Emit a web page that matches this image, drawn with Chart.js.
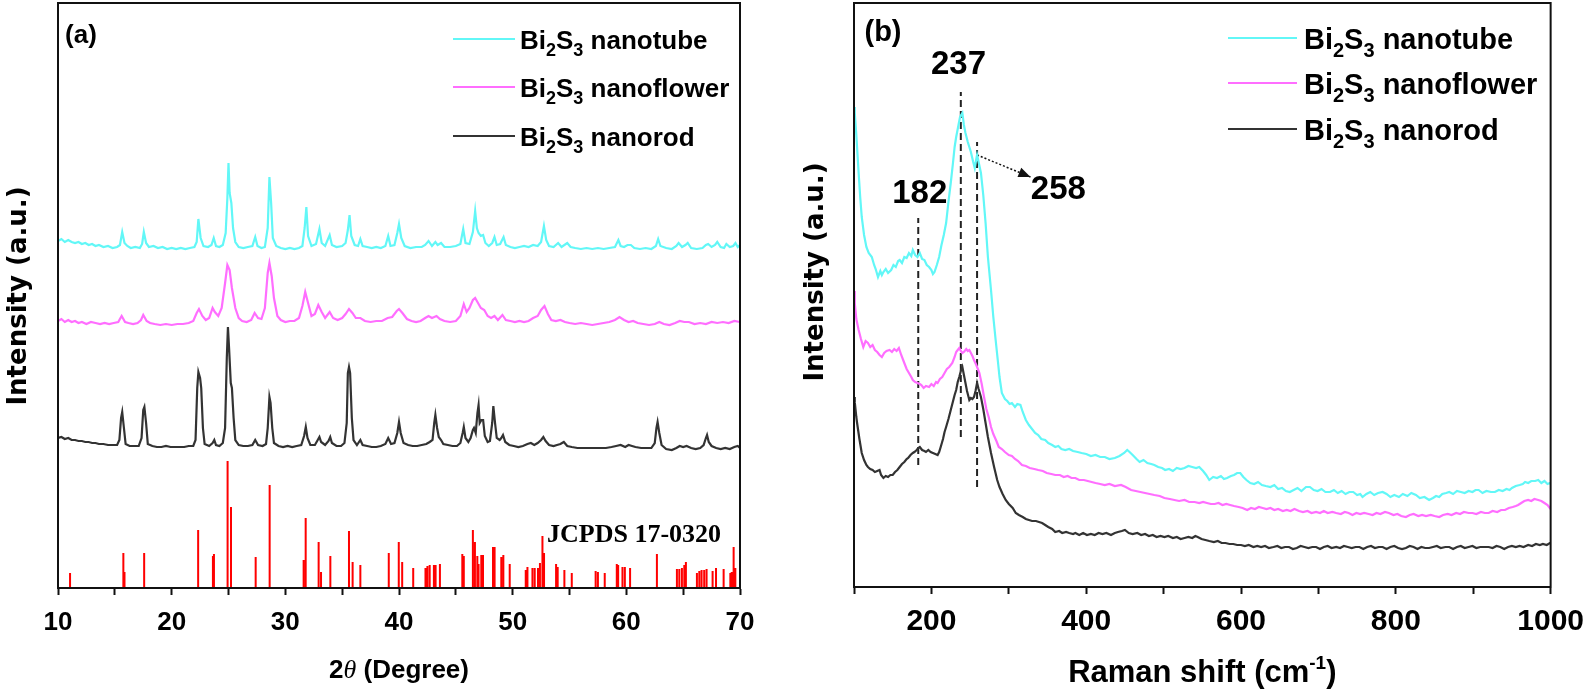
<!DOCTYPE html>
<html><head><meta charset="utf-8">
<script src="https://cdn.jsdelivr.net/npm/chart.js@4.4.0/dist/chart.umd.min.js"></script>
<style>
html,body{margin:0;padding:0;background:#fff;overflow:hidden}
#wrap{position:relative;width:1594px;height:694px;background:#fff}
.box{position:absolute;top:0;width:797px;height:694px}
</style></head><body>
<div id="wrap">
<div class="box" style="left:0"><canvas id="c1" width="797" height="694"></canvas></div>
<div class="box" style="left:797px"><canvas id="c2" width="797" height="694"></canvas></div>
</div>
<script>
// ---------------- DATA ----------------
const seriesNames = ['nanotube', 'nanoflower', 'nanorod'];
const xrdTickLabels = [10, 20, 30, 40, 50, 60, 70];
const ramanTickLabels = [200, 400, 600, 800, 1000];

// XRD (2theta, intensity offset a.u.)
const xrdTube = [[10.0,347],[10.3,349],[10.6,346],[10.9,348],[11.2,346],[11.5,345],[11.8,346],[12.1,344],[12.4,345],[12.7,343],[13.0,344],[13.3,342],[13.6,343],[14.0,341],[14.4,342],[14.8,340],[15.2,341],[15.45,343],[15.65,356],[15.85,345],[16.1,342],[16.4,340],[16.8,341],[17.2,340],[17.4,344],[17.55,356],[17.75,345],[18.0,341],[18.4,342],[18.8,340],[19.2,341],[19.6,339],[20.0,340],[20.4,339],[20.8,340],[21.2,339],[21.6,340],[22.0,341],[22.2,346],[22.35,369],[22.55,350],[22.8,342],[23.2,341],[23.5,343],[23.7,350],[23.9,342],[24.2,341],[24.5,343],[24.75,355],[24.9,390],[25.0,425],[25.1,395],[25.25,385],[25.4,360],[25.6,346],[25.9,341],[26.3,340],[26.7,341],[27.1,342],[27.35,351],[27.55,342],[27.9,340],[28.2,341],[28.45,360],[28.6,411],[28.75,385],[28.9,350],[29.2,342],[29.6,340],[30.0,339],[30.4,340],[30.8,339],[31.2,340],[31.5,342],[31.7,360],[31.85,381],[32.0,352],[32.3,342],[32.7,344],[33.0,359],[33.2,345],[33.5,342],[33.9,353],[34.1,343],[34.5,341],[35.0,342],[35.3,345],[35.5,358],[35.65,373],[35.8,352],[36.1,343],[36.4,342],[36.6,349],[36.8,342],[37.2,341],[37.6,340],[38.0,341],[38.4,340],[38.8,342],[39.05,352],[39.25,342],[39.6,343],[39.85,355],[40.0,364],[40.2,350],[40.5,342],[41.0,340],[41.5,341],[42.0,341],[42.3,343],[42.6,347],[42.9,342],[43.2,346],[43.4,343],[43.7,345],[44.0,341],[44.5,341],[45.0,342],[45.4,344],[45.65,359],[45.85,345],[46.2,344],[46.5,356],[46.7,377],[46.85,360],[47.0,355],[47.2,352],[47.4,353],[47.6,345],[47.9,342],[48.2,345],[48.4,351],[48.6,343],[48.9,344],[49.2,351],[49.4,343],[49.8,341],[50.2,340],[50.6,341],[51.0,342],[51.4,341],[51.8,343],[52.2,342],[52.5,346],[52.75,362],[52.95,348],[53.2,342],[53.6,341],[54.0,345],[54.3,341],[54.8,345],[55.1,341],[55.5,340],[56.0,339],[56.5,340],[57.0,339],[57.5,340],[58.0,339],[58.5,340],[59.0,341],[59.3,348],[59.5,342],[59.8,341],[60.1,343],[60.4,343],[60.7,340],[61.2,339],[61.7,340],[62.2,339],[62.6,342],[62.8,349],[63.0,342],[63.5,340],[64.0,339],[64.4,342],[64.6,345],[64.9,341],[65.2,343],[65.4,345],[65.7,340],[66.2,339],[66.7,340],[67.0,343],[67.2,344],[67.5,341],[67.8,343],[68.0,346],[68.3,341],[68.6,340],[68.8,344],[69.1,341],[69.4,342],[69.6,345],[69.8,341],[70.0,343]];

const xrdFlower = [[10.0,267],[10.3,269],[10.6,266],[10.9,268],[11.2,266],[11.5,267],[11.8,265],[12.1,266],[12.5,264],[12.9,266],[13.3,265],[13.7,264],[14.1,265],[14.5,264],[14.9,265],[15.3,266],[15.6,272],[15.9,266],[16.2,265],[16.6,264],[17.0,265],[17.3,268],[17.5,273],[17.8,267],[18.1,265],[18.5,264],[19.0,263],[19.5,264],[20.0,263],[20.5,264],[21.0,264],[21.5,265],[21.9,267],[22.2,275],[22.4,279],[22.7,272],[23.0,268],[23.3,270],[23.6,280],[23.8,276],[24.1,272],[24.4,280],[24.7,305],[24.9,323],[25.1,318],[25.3,300],[25.6,280],[25.9,270],[26.2,267],[26.6,266],[27.0,268],[27.3,275],[27.6,270],[27.9,269],[28.2,280],[28.45,315],[28.6,325],[28.8,312],[29.0,290],[29.3,272],[29.6,268],[30.0,266],[30.4,267],[30.8,267],[31.2,270],[31.5,282],[31.75,296],[32.0,285],[32.3,272],[32.6,274],[32.9,283],[33.2,276],[33.5,270],[33.9,276],[34.2,270],[34.6,268],[35.0,270],[35.3,274],[35.6,279],[35.9,275],[36.2,270],[36.6,270],[37.0,267],[37.5,266],[38.0,267],[38.5,267],[39.0,270],[39.4,271],[39.8,277],[40.0,279],[40.3,275],[40.7,269],[41.1,267],[41.5,266],[41.9,267],[42.3,270],[42.6,272],[42.9,270],[43.3,272],[43.6,269],[44.0,267],[44.5,266],[45.0,267],[45.4,272],[45.7,284],[45.95,276],[46.2,280],[46.5,288],[46.7,290],[46.9,286],[47.2,280],[47.5,278],[47.8,272],[48.1,270],[48.4,272],[48.7,268],[49.1,273],[49.4,268],[49.8,267],[50.2,266],[50.6,267],[51.0,266],[51.4,267],[51.8,270],[52.2,272],[52.5,278],[52.8,282],[53.1,274],[53.4,268],[53.8,267],[54.2,268],[54.6,266],[55.0,265],[55.5,264],[56.0,265],[56.5,264],[57.0,263],[57.5,264],[58.0,265],[58.5,266],[59.0,268],[59.4,271],[59.8,268],[60.2,266],[60.6,267],[61.0,265],[61.5,264],[62.0,263],[62.5,264],[62.9,266],[63.3,264],[63.8,263],[64.3,265],[64.7,267],[65.1,266],[65.5,266],[66.0,264],[66.5,265],[67.0,264],[67.5,266],[68.0,265],[68.5,266],[69.0,265],[69.5,267],[70.0,266]];

const xrdRod = [[10.0,150],[10.3,151],[10.6,149],[10.9,150],[11.2,148],[11.5,148],[11.8,147],[12.1,147],[12.4,146],[12.7,146],[13.0,145],[13.3,145],[13.6,144],[14.0,144],[14.4,143],[14.8,143],[15.2,143],[15.4,148],[15.55,170],[15.65,176],[15.8,160],[15.95,144],[16.3,142],[16.7,142],[17.1,142],[17.35,150],[17.5,178],[17.6,181],[17.75,165],[17.9,144],[18.3,142],[18.7,141],[19.1,141],[19.5,142],[19.9,141],[20.3,141],[20.7,141],[21.1,141],[21.5,142],[21.9,142],[22.1,148],[22.25,200],[22.35,216],[22.5,210],[22.6,200],[22.75,160],[22.9,144],[23.3,142],[23.6,145],[23.75,148],[23.9,143],[24.2,142],[24.5,145],[24.7,160],[24.85,230],[24.95,261],[25.05,240],[25.2,205],[25.3,200],[25.45,170],[25.6,148],[25.9,143],[26.3,142],[26.7,142],[27.1,143],[27.35,148],[27.6,143],[28.0,142],[28.3,144],[28.45,160],[28.6,191],[28.7,185],[28.85,160],[29.0,145],[29.4,142],[29.8,141],[30.2,142],[30.6,141],[31.0,142],[31.4,143],[31.65,152],[31.8,161],[31.95,150],[32.2,143],[32.6,143],[32.85,148],[33.0,151],[33.15,146],[33.5,143],[33.8,147],[33.95,151],[34.1,145],[34.5,142],[34.9,142],[35.2,145],[35.4,165],[35.5,215],[35.6,221],[35.7,215],[35.85,170],[36.0,148],[36.3,143],[36.6,148],[36.8,143],[37.2,142],[37.6,141],[38.0,141],[38.4,142],[38.8,144],[39.05,150],[39.3,144],[39.6,145],[39.85,155],[40.0,166],[40.15,155],[40.4,145],[40.8,143],[41.2,142],[41.6,142],[42.0,143],[42.4,144],[42.7,146],[42.95,148],[43.1,165],[43.2,173],[43.35,160],[43.5,151],[43.7,148],[43.9,144],[44.3,143],[44.7,142],[45.1,142],[45.4,145],[45.6,155],[45.7,161],[45.85,150],[46.1,146],[46.3,150],[46.5,158],[46.6,160],[46.75,155],[46.9,175],[47.0,183],[47.1,165],[47.25,168],[47.4,168],[47.55,152],[47.8,146],[48.0,147],[48.2,165],[48.3,182],[48.45,165],[48.6,150],[48.85,148],[49.0,150],[49.15,153],[49.35,146],[49.7,143],[50.1,142],[50.5,141],[50.9,142],[51.3,144],[51.6,145],[51.9,143],[52.2,145],[52.5,148],[52.7,151],[52.9,147],[53.2,143],[53.6,142],[53.9,143],[54.2,144],[54.5,146],[54.8,142],[55.2,141],[55.7,140],[56.2,140],[56.7,140],[57.2,140],[57.7,140],[58.2,140],[58.7,141],[59.1,142],[59.5,143],[59.9,141],[60.2,143],[60.5,142],[60.8,141],[61.3,140],[61.8,140],[62.2,140],[62.5,145],[62.65,160],[62.75,166],[62.9,155],[63.1,143],[63.5,139],[64.0,138],[64.4,140],[64.7,142],[65.0,141],[65.3,142],[65.7,140],[66.1,139],[66.5,140],[66.8,143],[67.0,150],[67.1,153],[67.25,146],[67.5,142],[67.9,140],[68.3,139],[68.7,140],[69.1,139],[69.5,141],[69.8,142],[70.0,140]];

// JCPDS 17-0320 reference lines
const stickPos = [11.06,15.75,15.85,17.58,22.33,23.63,23.72,24.92,25.22,27.39,28.62,31.61,31.79,32.93,33.14,33.96,35.6,35.92,36.6,39.1,39.98,40.28,41.25,42.33,42.5,42.7,43.07,43.22,43.6,45.57,45.7,46.5,46.68,46.89,47.0,47.24,47.39,48.27,48.41,49.0,49.18,49.74,51.15,51.3,51.74,51.94,52.23,52.4,52.62,52.76,53.82,53.96,54.55,55.2,57.3,57.5,58.1,59.16,59.28,59.66,59.87,60.33,62.69,64.45,64.66,64.89,65.1,65.24,66.21,66.42,66.62,66.85,67.06,67.59,67.89,68.56,69.15,69.27,69.44,69.59];
const stickHeight = [15,35,16,35,58,32,34,127,81,31,103,28,70,46,16,32,57,26,23,35,46,26,20,20,22,23,23,23,24,34,32,58,46,32,24,33,33,41,41,31,33,24,18,21,20,20,20,25,52,35,24,21,18,15,17,16,15,24,23,21,21,20,34,19,19,20,23,26,15,17,18,18,19,17,20,19,15,16,41,20];

// Raman (cm-1, intensity offset a.u.)
const ramanTube = [[100,480],[101,474],[103,452],[106,414],[108,390],[110,370],[113,352],[116,340],[119,334],[123,330],[126,322],[128,318],[131,310],[134,316],[136,312],[138,315],[141,318],[144,314],[148,317],[151,322],[154,320],[157,326],[159,327],[162,324],[165,330],[168,329],[171,334],[174,331],[176,337],[179,332],[182,330],[185,334],[188,328],[191,327],[194,322],[197,320],[200,317],[202,313],[204,315],[207,322],[210,330],[213,342],[216,352],[219,364],[222,385],[225,404],[228,425],[230,440],[232,450],[235,462],[237,470],[240,474],[242,462],[244,454],[247,445],[249,440],[251,435],[254,425],[256,419],[258,428],[259,432],[261,425],[264,414],[267,392],[270,364],[273,330],[277,297],[280,270],[283,247],[286,225],[288,210],[291,194],[295,188],[298,186],[301,183],[304,184],[308,180],[311,183],[315,182],[318,175],[322,167],[326,162],[330,158],[334,154],[338,152],[342,148],[347,147],[351,144],[356,142],[360,140],[364,141],[368,138],[373,137],[378,138],[383,136],[389,135],[394,134],[400,133],[406,131],[412,132],[418,130],[424,130],[430,128],[437,129],[443,131],[449,134],[453,137],[456,135],[460,132],[465,128],[469,125],[474,127],[479,124],[484,123],[488,122],[493,120],[498,119],[502,117],[507,118],[512,116],[517,119],[522,118],[527,119],[532,121],[537,120],[542,119],[546,120],[551,116],[555,112],[559,107],[564,110],[569,109],[574,111],[578,108],[582,109],[587,111],[591,112],[595,114],[599,114],[603,110],[607,107],[612,104],[617,103],[622,105],[627,102],[632,101],[638,100],[643,102],[648,98],[653,99],[658,96],[663,95],[668,97],[673,99],[678,96],[684,100],[689,100],[694,97],[699,96],[704,98],[709,95],[715,95],[720,97],[725,94],[730,96],[735,93],[740,95],[745,95],[750,92],[754,93],[757,90],[762,93],[767,95],[772,92],[777,94],[783,95],[788,93],[793,90],[798,92],[804,90],[809,93],[815,91],[820,94],[826,92],[831,89],[837,90],[843,87],[848,89],[852,91],[856,90],[860,93],[865,94],[869,95],[874,93],[879,96],[884,95],[889,94],[894,96],[899,95],[903,97],[907,97],[912,94],[917,96],[923,95],[928,95],[933,97],[938,96],[943,98],[947,97],[950,99],[955,101],[960,102],[964,103],[967,105],[971,104],[975,106],[980,106],[984,107],[988,104],[992,106],[996,103],[999,104],[1000,103]];

const ramanFlower = [[100,296],[101,284],[103,268],[106,257],[109,248],[112,240],[115,246],[118,244],[121,240],[124,242],[127,237],[130,235],[133,232],[136,230],[139,234],[142,236],[146,237],[149,235],[152,238],[155,236],[158,239],[161,232],[165,224],[168,218],[171,214],[174,210],[176,207],[179,205],[182,204],[185,203],[187,202],[190,199],[193,201],[197,200],[200,203],[203,201],[206,205],[208,204],[211,208],[214,210],[217,214],[220,218],[223,220],[227,224],[230,230],[232,235],[234,237],[236,239],[238,236],[240,234],[242,235],[245,238],[247,236],[249,237],[251,234],[253,231],[255,227],[258,222],[260,218],[262,214],[265,203],[268,190],[271,178],[274,170],[277,160],[280,153],[284,146],[287,140],[291,138],[295,135],[300,132],[304,131],[308,128],[312,126],[317,122],[322,121],[327,119],[333,118],[338,117],[344,116],[349,114],[355,113],[360,112],[366,112],[371,110],[376,111],[381,109],[386,109],[391,107],[397,107],[402,106],[407,105],[412,104],[418,103],[424,102],[430,103],[437,101],[445,102],[451,100],[458,97],[464,96],[470,95],[476,94],[482,93],[488,92],[495,91],[501,89],[508,88],[514,87],[520,86],[527,87],[533,85],[540,85],[546,84],[551,85],[556,84],[561,83],[566,83],[571,84],[576,82],[581,83],[586,82],[591,81],[597,80],[602,79],[608,77],[613,79],[618,78],[623,80],[628,79],[633,78],[638,79],[643,77],[648,78],[654,76],[659,77],[664,76],[669,78],[675,76],[680,75],[686,76],[691,74],[697,75],[702,74],[707,76],[712,74],[718,75],[723,74],[729,73],[734,75],[739,74],[744,72],[749,74],[754,73],[759,74],[765,73],[770,72],[775,74],[780,73],[786,75],[791,74],[797,72],[802,73],[807,71],[813,70],[818,72],[823,73],[829,71],[834,72],[839,71],[845,72],[850,71],[856,70],[861,72],[867,73],[872,72],[878,74],[883,73],[888,75],[894,74],[899,74],[904,73],[910,75],[915,74],[920,74],[925,76],[931,75],[936,77],[941,77],[946,79],[951,80],[955,81],[958,82],[962,84],[966,86],[971,87],[975,86],[979,88],[984,87],[988,86],[992,84],[996,82],[999,79],[1000,78]];

const ramanRod = [[100,190],[101,185],[103,170],[104,164],[107,148],[110,134],[113,127],[116,122],[118,120],[121,118],[124,117],[127,115],[130,116],[133,117],[135,112],[138,109],[141,111],[144,110],[147,112],[150,112],[153,115],[156,117],[159,120],[162,123],[165,125],[168,128],[170,129],[173,132],[176,134],[178,135],[181,137],[183,139],[185,140],[188,137],[191,136],[193,135],[196,137],[199,135],[202,134],[205,133],[208,132],[210,135],[212,140],[215,148],[217,155],[219,160],[222,168],[225,177],[228,186],[230,192],[232,197],[234,205],[236,210],[238,216],[240,220],[242,212],[244,204],[246,196],[248,190],[249,187],[251,189],[253,188],[255,190],[257,196],[259,204],[261,198],[264,190],[267,178],[270,164],[273,150],[277,134],[281,120],[285,107],[288,100],[292,93],[296,87],[300,83],[305,79],[309,74],[313,72],[318,70],[322,68],[326,67],[330,66],[335,66],[339,65],[343,64],[347,62],[351,60],[356,58],[360,55],[365,56],[369,54],[374,55],[378,54],[383,53],[386,54],[391,52],[396,54],[401,52],[406,53],[411,52],[416,54],[421,53],[426,54],[432,52],[437,54],[441,55],[446,56],[450,57],[455,54],[460,53],[466,54],[471,52],[476,53],[481,51],[486,52],[491,50],[496,51],[501,50],[506,51],[512,49],[517,50],[522,48],[527,49],[532,50],[537,49],[541,51],[544,50],[549,48],[554,47],[559,46],[565,45],[570,46],[575,44],[580,44],[585,43],[590,43],[595,42],[600,42],[605,41],[610,42],[616,40],[621,41],[626,40],[631,41],[636,39],[642,40],[647,41],[652,39],[657,40],[662,40],[667,38],[672,39],[677,41],[682,40],[687,39],[692,40],[697,40],[702,38],[707,40],[712,41],[717,39],[723,40],[728,39],[733,41],[738,40],[743,39],[748,40],[753,40],[758,38],[763,40],[768,41],[773,39],[778,40],[783,40],[788,38],[793,40],[798,41],[803,39],[808,38],[813,39],[818,41],[823,40],[828,38],[833,40],[838,39],[843,39],[848,40],[853,41],[858,39],[864,40],[869,40],[874,38],[879,40],[884,41],[889,39],[894,40],[899,41],[904,39],[909,40],[915,40],[920,40],[925,39],[930,41],[935,40],[940,38],[945,40],[950,41],[955,40],[960,41],[965,40],[971,42],[976,41],[981,43],[986,42],[990,43],[995,42],[999,44],[1000,44]];

// Raman peak markers
const peakLineX = [183, 238, 259];
const peakLineTop = [369, 495, 445];
const peakLineBottom = [122, 150, 100];
const peakLabels = ['182', '237', '258'];
const peakLabelX = [185, 235, 364];
const peakLabelY = [393, 522, 397];
const arrowFrom = [259, 432];
const arrowTo = [328, 410];

// ---------------- STYLE ----------------
const CYAN = '#62f7f7', MAGENTA = '#ff6eff', DARK = '#333333', RED = '#ff0000';
const SANS = '"Liberation Sans", Arial, sans-serif';
const WIDE = '"DejaVu Sans", Verdana, sans-serif';
const SERIF = '"Liberation Serif", "Times New Roman", serif';
const colors = [CYAN, MAGENTA, DARK];

const toPts = arr => arr.map(p => ({x: p[0], y: p[1]}));
const stickData = [];
stickPos.forEach((x, i) => { stickData.push({x, y: 0}, {x, y: stickHeight[i]}, {x, y: null}); });

function rich(ctx, parts, x, y, align) {
  let total = 0;
  parts.forEach(p => { ctx.font = p.f; p.w = ctx.measureText(p.t).width; total += p.w; });
  let cx = align === 'center' ? x - total / 2 : x;
  ctx.textAlign = 'left';
  parts.forEach(p => { ctx.font = p.f; ctx.fillText(p.t, cx, y + (p.dy || 0)); cx += p.w; });
}
function bi2s3(name, s) {
  const big = `bold ${s}px ${SANS}`, small = `bold ${Math.round(s * 0.7)}px ${SANS}`;
  return [{t: 'Bi', f: big}, {t: '2', f: small, dy: s * 0.28}, {t: 'S', f: big}, {t: '3', f: small, dy: s * 0.28}, {t: ' ' + name, f: big}];
}
function drawLegend(ctx, x1, x2, tx, rows, s) {
  seriesNames.forEach((n, i) => {
    ctx.save();
    ctx.strokeStyle = colors[i]; ctx.lineWidth = 2;
    ctx.beginPath(); ctx.moveTo(x1, rows[i]); ctx.lineTo(x2, rows[i]); ctx.stroke();
    ctx.fillStyle = '#000'; ctx.textBaseline = 'alphabetic';
    rich(ctx, bi2s3(n, s), tx, rows[i] + s * 0.37, 'left');
    ctx.restore();
  });
}
function yTitle(ctx, x, y, size) {
  ctx.save();
  ctx.translate(x, y); ctx.rotate(-Math.PI / 2);
  ctx.fillStyle = '#000'; ctx.textAlign = 'center'; ctx.textBaseline = 'middle';
  ctx.font = `bold ${size}px ${WIDE}`;
  ctx.fillText('Intensity (a.u.)', 0, 0);
  ctx.restore();
}
const frame = {
  id: 'frame',
  afterDraw(chart) {
    const {ctx, chartArea: a} = chart;
    ctx.save(); ctx.strokeStyle = '#111'; ctx.lineWidth = 2;
    ctx.strokeRect(a.left, a.top, a.right - a.left, a.bottom - a.top);
    ctx.restore();
  }
};

const leftText = {
  id: 'leftText',
  afterDraw(chart) {
    const ctx = chart.ctx, a = chart.chartArea;
    ctx.save(); ctx.fillStyle = '#000';
    ctx.textAlign = 'center'; ctx.textBaseline = 'middle';
    ctx.font = `bold 26px ${SANS}`; ctx.fillText('(a)', 81, 36);
    ctx.textAlign = 'left'; ctx.textBaseline = 'alphabetic';
    ctx.font = `bold 26px ${SERIF}`; ctx.fillText('JCPDS 17-0320', 547, 542);
    rich(ctx, [{t: '2', f: `bold 26px ${SANS}`}, {t: 'θ', f: `italic 26px ${SERIF}`}, {t: ' (Degree)', f: `bold 26px ${SANS}`}], (a.left + a.right) / 2, 678, 'center');
    ctx.restore();
    yTitle(ctx, 19, 296, 26);
    drawLegend(ctx, 453, 515, 520, [39, 87, 136], 26);
  }
};

const rightText = {
  id: 'rightText',
  afterDraw(chart) {
    const ctx = chart.ctx, a = chart.chartArea, xs = chart.scales.x, ys = chart.scales.y;
    ctx.save(); ctx.fillStyle = '#000';
    ctx.textAlign = 'center'; ctx.textBaseline = 'middle';
    ctx.font = `bold 29px ${SANS}`; ctx.fillText('(b)', 86, 33);
    ctx.font = `bold 33px ${SANS}`;
    peakLabels.forEach((t, i) => ctx.fillText(t, xs.getPixelForValue(peakLabelX[i]), ys.getPixelForValue(peakLabelY[i])));
    // arrow head
    const x0 = xs.getPixelForValue(arrowFrom[0]), y0 = ys.getPixelForValue(arrowFrom[1]);
    const x1 = xs.getPixelForValue(arrowTo[0]), y1 = ys.getPixelForValue(arrowTo[1]);
    const ang = Math.atan2(y1 - y0, x1 - x0), L = 12, W = 5;
    ctx.fillStyle = '#111';
    ctx.beginPath();
    ctx.moveTo(x1, y1);
    ctx.lineTo(x1 - L * Math.cos(ang) + W * Math.sin(ang), y1 - L * Math.sin(ang) - W * Math.cos(ang));
    ctx.lineTo(x1 - L * Math.cos(ang) - W * Math.sin(ang), y1 - L * Math.sin(ang) + W * Math.cos(ang));
    ctx.closePath(); ctx.fill();
    ctx.fillStyle = '#000'; ctx.textBaseline = 'alphabetic';
    rich(ctx, [{t: 'Raman shift (cm', f: `bold 31px ${SANS}`}, {t: '-1', f: `bold 19px ${SANS}`, dy: -13}, {t: ')', f: `bold 31px ${SANS}`}], (a.left + a.right) / 2, 682, 'center');
    ctx.restore();
    yTitle(ctx, 19, 272, 26);
    drawLegend(ctx, 431, 500, 507, [38, 83, 129], 29);
  }
};

function xAxis(min, max, step, labels, size, pad, h) {
  return {
    type: 'linear', min, max, offset: false,
    ticks: {stepSize: step, autoSkip: false, maxRotation: 0, minRotation: 0, padding: pad, color: '#000',
      font: {family: SANS, size, weight: 'bold'},
      callback: v => labels.includes(v) ? String(v) : ''},
    grid: {drawOnChartArea: false, drawTicks: true, tickLength: 7, tickWidth: 2, tickColor: '#111', color: '#111'},
    border: {display: true, color: '#111', width: 2},
    afterFit: s => { s.height = h; }
  };
}
function yAxis(max, w) {
  return {
    min: 0, max,
    ticks: {display: false},
    grid: {display: false, drawTicks: false},
    border: {display: true, color: '#111', width: 2},
    afterFit: s => { s.width = w; }
  };
}
const line = (data, color, extra) => Object.assign({data, borderColor: color, borderWidth: 2.2, pointRadius: 0, tension: 0, fill: false}, extra || {});

new Chart(document.getElementById('c1'), {
  type: 'line',
  data: {datasets: [
    line(toPts(xrdTube), CYAN),
    line(toPts(xrdFlower), MAGENTA),
    line(toPts(xrdRod), DARK),
    line(stickData, RED, {spanGaps: false, borderCapStyle: 'butt', borderWidth: 2})
  ]},
  options: {
    responsive: false, animation: false, devicePixelRatio: 1,
    layout: {padding: {top: 3, right: 57, left: 0, bottom: 0}},
    plugins: {legend: {display: false}, tooltip: {enabled: false}},
    scales: {x: xAxis(10, 70, 5, xrdTickLabels, 26, 12, 106), y: yAxis(585, 58)}
  },
  plugins: [frame, leftText]
});

const dashSets = peakLineX.map((x, i) => line([{x, y: peakLineBottom[i]}, {x, y: peakLineTop[i]}], '#222', {borderDash: [7, 4], borderWidth: 2}));
new Chart(document.getElementById('c2'), {
  type: 'line',
  data: {datasets: [
    line(toPts(ramanTube), CYAN),
    line(toPts(ramanFlower), MAGENTA),
    line(toPts(ramanRod), DARK),
    ...dashSets,
    line([{x: arrowFrom[0], y: arrowFrom[1]}, {x: arrowTo[0], y: arrowTo[1]}], '#111', {borderDash: [2, 2], borderWidth: 1.5})
  ]},
  options: {
    responsive: false, animation: false, devicePixelRatio: 1,
    layout: {padding: {top: 3, right: 38, left: 0, bottom: 0}},
    plugins: {legend: {display: false}, tooltip: {enabled: false}},
    scales: {x: xAxis(100, 1000, 100, ramanTickLabels, 30, 10, 107), y: yAxis(584, 57)}
  },
  plugins: [frame, rightText]
});
</script>
</body></html>
